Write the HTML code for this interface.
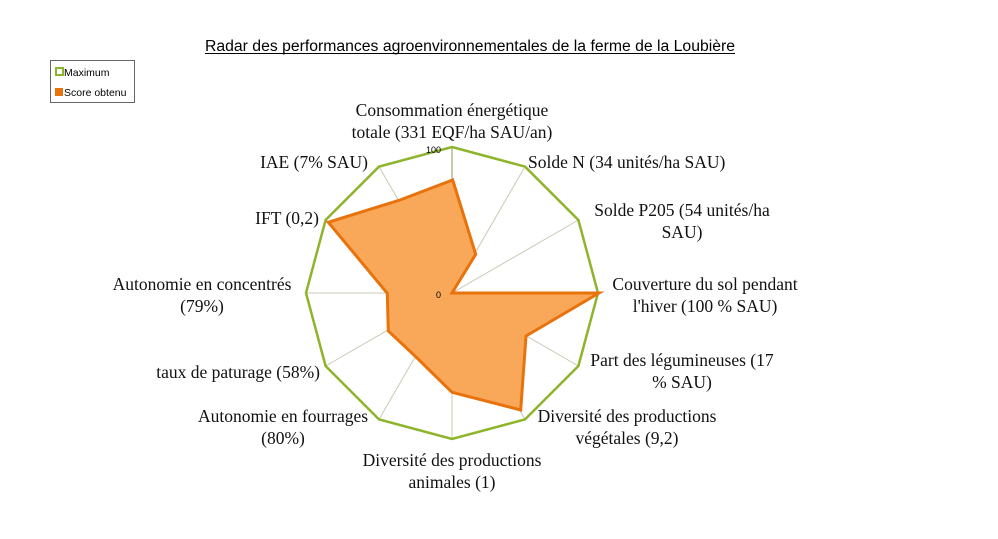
<!DOCTYPE html>
<html><head><meta charset="utf-8"><style>
html,body{margin:0;padding:0;background:#fff;}
svg{display:block;}
.l{font-family:"Liberation Serif",serif;font-size:17.5px;fill:#111;}
</style></head><body>
<svg width="998" height="539" viewBox="0 0 998 539" xmlns="http://www.w3.org/2000/svg">
<rect width="998" height="539" fill="#fff"/>
<text x="470" y="51" text-anchor="middle" textLength="530" lengthAdjust="spacingAndGlyphs" font-family="Liberation Sans,sans-serif" font-size="15.5" fill="#000">Radar des performances agroenvironnementales de la ferme de la Loubière</text>
<line x1="205" y1="53.5" x2="735" y2="53.5" stroke="#000" stroke-width="1"/>
<rect x="50.5" y="60.5" width="84" height="42" fill="#fff" stroke="#666" stroke-width="1"/>
<rect x="56" y="68" width="7" height="7" fill="#fff" stroke="#8db42a" stroke-width="2"/>
<text x="64" y="76" font-family="Liberation Sans,sans-serif" font-size="10.5" fill="#000">Maximum</text>
<rect x="55" y="88" width="8" height="8" fill="#e8720c"/>
<text x="64" y="96" font-family="Liberation Sans,sans-serif" font-size="10.5" fill="#000">Score obtenu</text>
<g stroke="#c8c8b4" stroke-width="1">
<line x1="452" y1="293" x2="452" y2="147"/><line x1="452" y1="293" x2="525" y2="166.6"/>
<line x1="452" y1="293" x2="578.4" y2="220"/><line x1="452" y1="293" x2="598" y2="293"/>
<line x1="452" y1="293" x2="578.4" y2="366"/><line x1="452" y1="293" x2="525" y2="419.4"/>
<line x1="452" y1="293" x2="452" y2="439"/><line x1="452" y1="293" x2="379" y2="419.4"/>
<line x1="452" y1="293" x2="325.6" y2="366"/><line x1="452" y1="293" x2="306" y2="293"/>
<line x1="452" y1="293" x2="325.6" y2="220"/><line x1="452" y1="293" x2="379" y2="166.6"/>
</g>
<line x1="452" y1="293" x2="452" y2="147" stroke="#8a9a5a" stroke-width="1"/>
<polygon points="452,147 525,166.6 578.4,220 598,293 578.4,366 525,419.4 452,439 379,419.4 325.6,366 306,293 325.6,220 379,166.6" fill="none" stroke="#8db42a" stroke-width="2.5"/>
<polygon points="452.7,180 475.7,254.3 452,293 599,293 526,336 520.7,410 452,392.3 415.3,356.3 388.3,331 387.3,293.3 328.3,222.3 400,200" fill="#f8a858" stroke="#e8720c" stroke-width="3" stroke-linejoin="miter"/>
<text x="426" y="153" font-family="Liberation Sans,sans-serif" font-size="9" fill="#000">100</text>
<text x="436" y="298" font-family="Liberation Sans,sans-serif" font-size="9" fill="#000">0</text>
<g class="l">
<text x="452" y="116" text-anchor="middle">Consommation énergétique</text>
<text x="452" y="138" text-anchor="middle">totale (331 EQF/ha SAU/an)</text>
<text x="528" y="168">Solde N (34 unités/ha SAU)</text>
<text x="682" y="216" text-anchor="middle">Solde P205 (54 unités/ha</text>
<text x="682" y="238" text-anchor="middle">SAU)</text>
<text x="705" y="290" text-anchor="middle">Couverture du sol pendant</text>
<text x="705" y="312" text-anchor="middle">l'hiver (100 % SAU)</text>
<text x="682" y="366" text-anchor="middle">Part des légumineuses (17</text>
<text x="682" y="388" text-anchor="middle">% SAU)</text>
<text x="627" y="422" text-anchor="middle">Diversité des productions</text>
<text x="627" y="444" text-anchor="middle">végétales (9,2)</text>
<text x="452" y="466" text-anchor="middle">Diversité des productions</text>
<text x="452" y="488" text-anchor="middle">animales (1)</text>
<text x="283" y="422" text-anchor="middle">Autonomie en fourrages</text>
<text x="283" y="444" text-anchor="middle">(80%)</text>
<text x="320" y="378" text-anchor="end">taux de paturage (58%)</text>
<text x="202" y="290" text-anchor="middle">Autonomie en concentrés</text>
<text x="202" y="312" text-anchor="middle">(79%)</text>
<text x="319" y="224" text-anchor="end">IFT (0,2)</text>
<text x="368" y="168" text-anchor="end">IAE (7% SAU)</text>
</g>
</svg>
</body></html>
